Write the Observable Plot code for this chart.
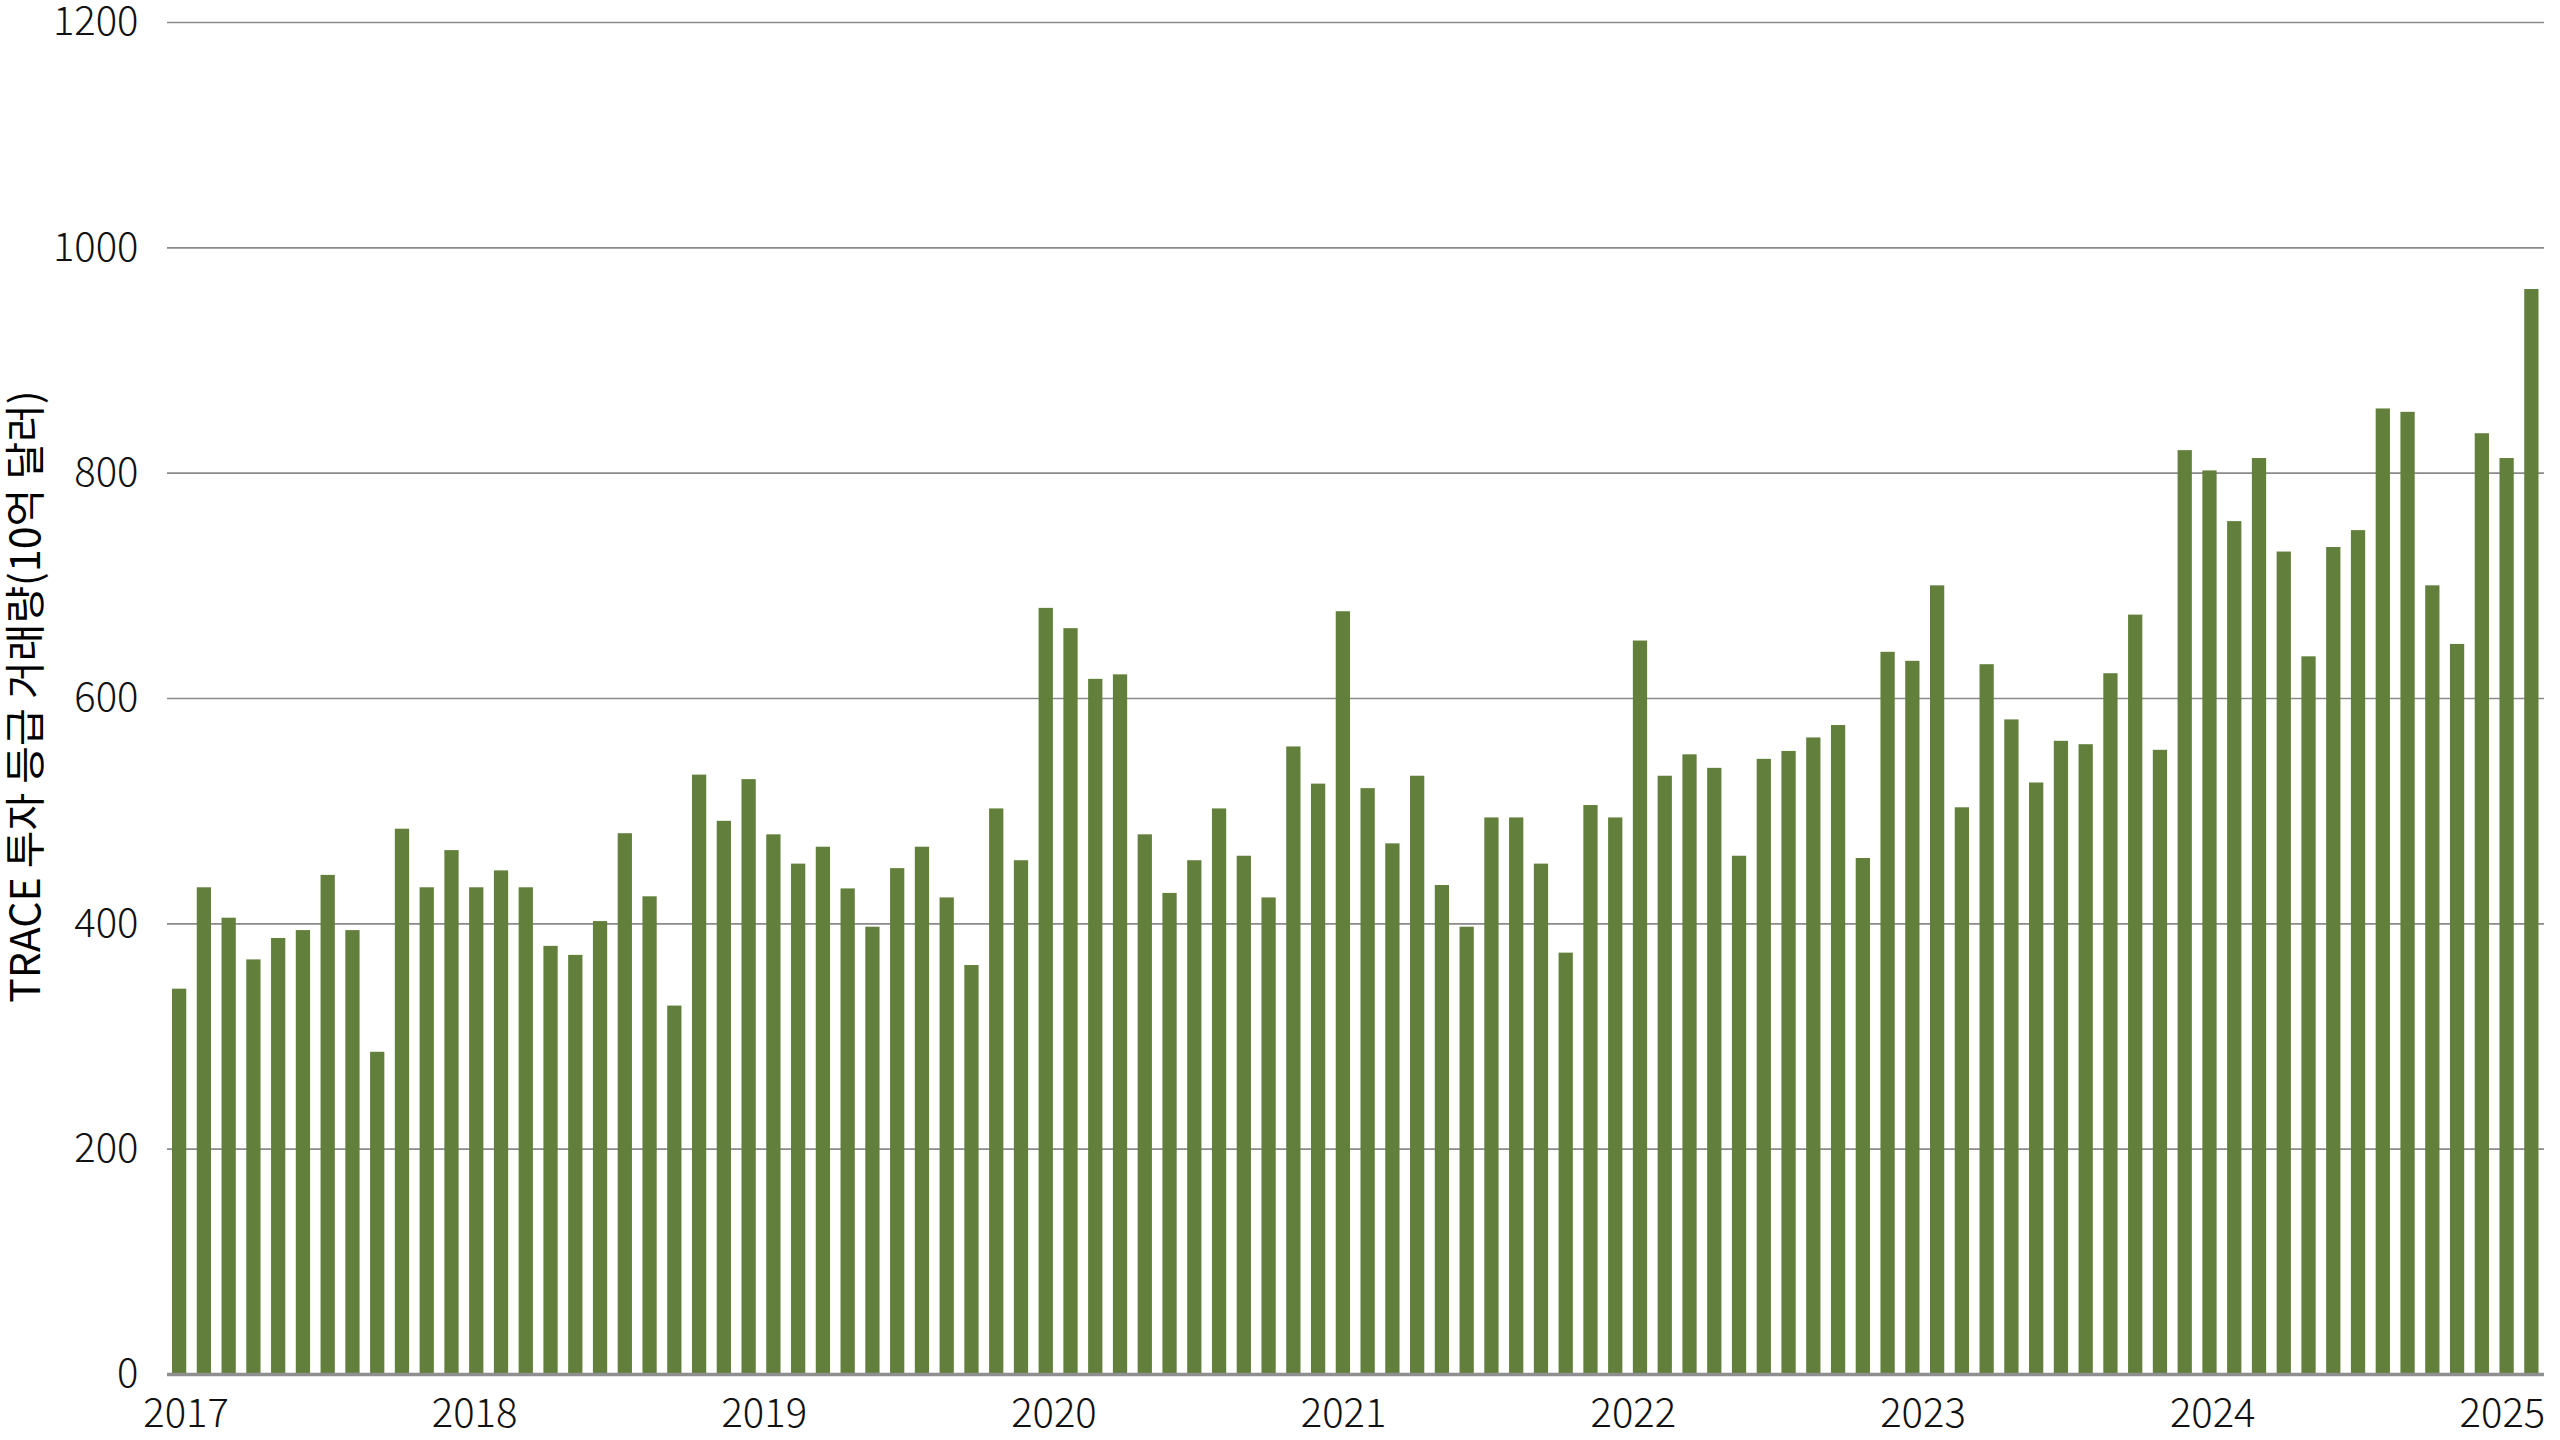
<!DOCTYPE html>
<html>
<head>
<meta charset="utf-8">
<script src="https://cdn.jsdelivr.net/npm/d3@7"></script>
<script src="https://cdn.jsdelivr.net/npm/@observablehq/plot@0.6"></script>
<style>
  html, body { margin: 0; padding: 0; background: #ffffff; overflow: hidden; }
  #chart svg { display: block; }
</style>
</head>
<body>
<div id="chart"></div>
<script>
// Monthly TRACE investment-grade volume (USD bn), one bar per month
const volumes = [
  342, 432, 405, 368, 387, 394, 443, 394, 286, 484, 432, 465,
  432, 447, 432, 380, 372, 402, 480, 424, 327, 532, 491, 528,
  479, 453, 468, 431, 397, 449, 468, 423, 363, 502, 456, 680,
  662, 617, 621, 479, 427, 456, 502, 460, 423, 557, 524, 677,
  520, 471, 531, 434, 397, 494, 494, 453, 374, 505, 494, 651,
  531, 550, 538, 460, 546, 553, 565, 576, 458, 641, 633, 700,
  503, 630, 581, 525, 562, 559, 622, 674, 554, 820, 802, 757,
  813, 730, 637, 734, 749, 857, 854, 700, 648, 835, 813, 963
];
// Year labels and where they sit along the bar sequence (in bar slots from the left edge)
const yearLabels = ["2017", "2018", "2019", "2020", "2021", "2022", "2023", "2024", "2025"];
const yearTickPos = [0.75, 12.4, 24.1, 35.8, 47.5, 59.2, 70.9, 82.6, 94.3];
const yTicks = [0, 200, 400, 600, 800, 1000, 1200];
const yTitle = "TRACE 투자 등급 거래량(10억 달러)";

const bars = volumes.map((v, i) => ({slot: i, value: v}));
const yearData = yearLabels.map((label, i) => ({label, pos: yearTickPos[i]}));

const font = "'Noto Sans CJK KR', 'Noto Sans', sans-serif";

const chart = Plot.plot({
  width: 2560,
  height: 1440,
  marginLeft: 167,
  marginRight: 16,
  marginTop: 22,
  marginBottom: 66,
  x: {domain: [0, volumes.length], axis: null},
  y: {domain: [0, 1200], axis: null},
  style: {fontFamily: font, background: "#ffffff", color: "#111111"},
  marks: [
    Plot.ruleY(yTicks.filter(d => d > 0), {stroke: "#8a8a8a", strokeWidth: 1.6}),
    Plot.rectY(bars, {
      x1: "slot",
      x2: d => d.slot + 1,
      y: "value",
      fill: "#62803c",
      insetLeft: 5,
      insetRight: 5.5
    }),
    Plot.ruleY([0], {stroke: "#8f8f8f", strokeWidth: 3.5}),
    Plot.text(yTicks, {
      y: d => d,
      text: d => String(d),
      frameAnchor: "left",
      textAnchor: "end",
      dx: -29,
      fontSize: 40,
      fontWeight: 300,
      fill: "#111111"
    }),
    Plot.text(yearData, {
      x: "pos",
      text: "label",
      frameAnchor: "bottom",
      lineAnchor: "top",
      dy: 24,
      fontSize: 40,
      fontWeight: 300,
      fill: "#111111"
    }),
    Plot.text([yTitle], {
      frameAnchor: "left",
      textAnchor: "middle",
      dx: -141,
      dy: -2,
      rotate: -90,
      fontSize: 41,
      fontWeight: 400,
      fill: "#000000"
    })
  ]
});

document.getElementById("chart").appendChild(chart);
</script>
</body>
</html>
